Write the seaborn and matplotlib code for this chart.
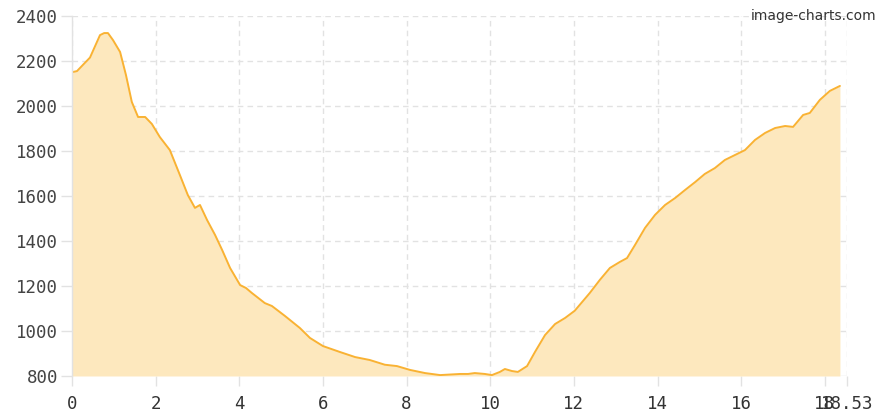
import numpy as np
import pandas as pd
import seaborn as sns
import matplotlib.pyplot as plt

# Elevation profile
distance = [0.0, 0.12, 0.29, 0.43, 0.67, 0.77, 0.86, 0.98, 1.15, 1.29, 1.43, 1.58,
            1.75, 1.91, 2.10, 2.34, 2.58, 2.77, 2.94, 3.06, 3.23, 3.42, 3.59, 3.78,
            4.02, 4.16, 4.30, 4.61, 4.78, 5.09, 5.45, 5.69, 6.00, 6.40, 6.77, 7.12,
            7.48, 7.77, 8.08, 8.44, 8.80, 9.28, 9.47, 9.63, 9.87, 10.04, 10.23, 10.35,
            10.52, 10.66, 10.88, 11.07, 11.31, 11.55, 11.79, 12.02, 12.38, 12.62, 12.86,
            13.10, 13.27, 13.46, 13.70, 13.94, 14.18, 14.42, 14.66, 14.90, 15.13, 15.37,
            15.61, 15.85, 16.09, 16.33, 16.57, 16.81, 17.05, 17.24, 17.48, 17.64, 17.88,
            18.12, 18.36]
elevation = [2150, 2155, 2188, 2215, 2315, 2324, 2324, 2293, 2240, 2138, 2018, 1951,
             1951, 1920, 1862, 1804, 1693, 1604, 1547, 1560, 1493, 1427, 1360, 1280,
             1204, 1191, 1169, 1124, 1111, 1067, 1013, 969, 933, 907, 884, 871,
             850, 844, 827, 813, 804, 809, 809, 813, 809, 804, 818, 831,
             822, 818, 844, 907, 982, 1031, 1058, 1090, 1169, 1227, 1280,
             1307, 1324, 1382, 1458, 1516, 1560, 1591, 1627, 1662, 1698, 1724,
             1760, 1782, 1804, 1849, 1880, 1902, 1911, 1907, 1960, 1969, 2027,
             2067, 2089]

x_ticks = [0, 2, 4, 6, 8, 10, 12, 14, 16, 18, 18.53]
x_labels = ['0', '2', '4', '6', '8', '10', '12', '14', '16', '18', '18.53']
y_ticks = [800, 1000, 1200, 1400, 1600, 1800, 2000, 2200, 2400]

df = pd.DataFrame({'distance': distance, 'elevation': elevation})

sns.set_style('white')
plt.rcParams['font.family'] = ['DejaVu Sans Mono', 'DejaVu Sans']

fig = plt.figure(figsize=(8.92, 4.2), dpi=100)
ax = fig.add_axes([0.0807, 0.1048, 0.8689, 0.8572])

ax.fill_between(df['distance'], df['elevation'], 800, color='#fde8be', linewidth=0)
sns.lineplot(data=df, x='distance', y='elevation', ax=ax, color='#f9b233', linewidth=1.4)

ax.set_xlim(0, 18.53)
ax.set_ylim(800, 2400)
ax.set_xticks(x_ticks)
ax.set_xticklabels(x_labels)
ax.set_yticks(y_ticks)
ax.set_xlabel('')
ax.set_ylabel('')

ax.grid(True, color='#e2e2e2', linestyle=(0, (4, 3)), linewidth=1)
ax.set_axisbelow(True)
for s in ['top', 'right', 'bottom']:
    ax.spines[s].set_visible(False)
ax.spines['left'].set_color('#e2e2e2')
ax.spines['left'].set_linewidth(1)

ax.tick_params(axis='x', length=7, width=1, color='#e2e2e2', pad=7,
               labelsize=12.5, labelcolor='#333333', direction='out')
ax.tick_params(axis='y', length=8, width=1, color='#e2e2e2', pad=2,
               labelsize=12.5, labelcolor='#444444', direction='out')
ax.tick_params(bottom=True, left=True)

fig.text(0.982, 0.962, 'image-charts.com', ha='right', va='center',
         fontsize=10, color='#333333', family='DejaVu Sans')

fig.savefig('out.png', dpi=100)
